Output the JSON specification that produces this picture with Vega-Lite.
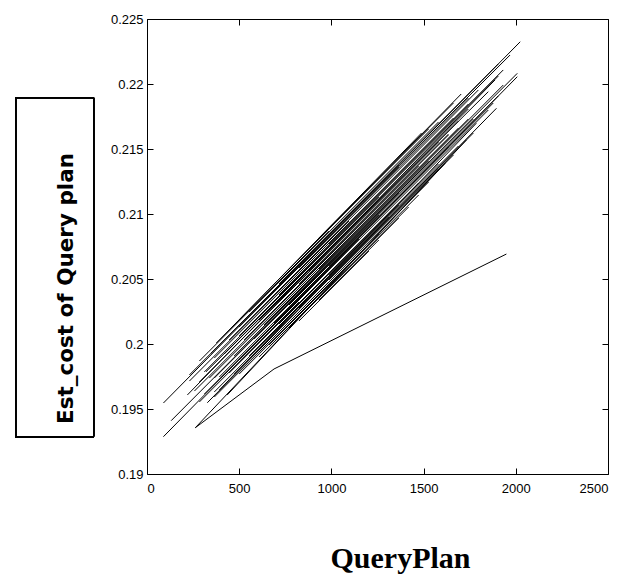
{
  "$schema": "https://vega.github.io/schema/vega-lite/v6.json",
  "width": 461,
  "height": 455,
  "autosize": {"type": "none"},
  "padding": {"left": 147, "top": 19, "right": 28, "bottom": 101},
  "background": "white",
  "config": {
    "view": {"stroke": "black", "strokeWidth": 1},
    "axis": {"labelFont": "Liberation Sans", "labelFontSize": 13, "labelColor": "black", "tickColor": "black", "tickWidth": 1, "grid": false, "domain": false}
  },
  "data": {"values": [
    {"s":"S1","o":0,"x":89,"y":0.19546},{"s":"S1","o":1,"x":2024,"y":0.22325},
    {"s":"S2","o":0,"x":131,"y":0.19410},{"s":"S2","o":1,"x":2008,"y":0.22082},
    {"s":"S3","o":0,"x":89,"y":0.19287},{"s":"S3","o":1,"x":2008,"y":0.22056},
    {"s":"S4","o":0,"x":219,"y":0.19608},{"s":"S4","o":1,"x":1887,"y":0.22031},
    {"s":"S5","o":0,"x":347,"y":0.19928},{"s":"S5","o":1,"x":1969,"y":0.22223},
    {"s":"S6","o":0,"x":376,"y":0.20008},{"s":"S6","o":1,"x":1704,"y":0.21923},
    {"s":"S7","o":0,"x":462,"y":0.20131},{"s":"S7","o":1,"x":1489,"y":0.21623},
    {"s":"S8","o":0,"x":320,"y":0.19787},{"s":"S8","o":1,"x":1851,"y":0.21941},
    {"s":"S9","o":0,"x":327,"y":0.19548},{"s":"S9","o":1,"x":1895,"y":0.21813},
    {"s":"S10","o":0,"x":392,"y":0.19646},{"s":"S10","o":1,"x":1786,"y":0.21698},
    {"s":"S11","o":0,"x":435,"y":0.19608},{"s":"S11","o":1,"x":1732,"y":0.21569},
    {"s":"S12","o":0,"x":262,"y":0.19356},{"s":"S12","o":1,"x":1617,"y":0.21390},
    {"s":"L","o":0,"x":262,"y":0.19356},{"s":"L","o":1,"x":689,"y":0.19808},{"s":"L","o":2,"x":1949,"y":0.20692},
    {"s":"F1","o":0,"x":446,"y":0.20031},{"s":"F1","o":1,"x":1797,"y":0.21954},
    {"s":"F2","o":0,"x":365,"y":0.19892},{"s":"F2","o":1,"x":1662,"y":0.21738},
    {"s":"F3","o":0,"x":500,"y":0.20062},{"s":"F3","o":1,"x":1905,"y":0.22061},
    {"s":"F4","o":0,"x":419,"y":0.19923},{"s":"F4","o":1,"x":1743,"y":0.21808},
    {"s":"F5","o":0,"x":284,"y":0.19708},{"s":"F5","o":1,"x":1581,"y":0.21554},
    {"s":"F6","o":0,"x":527,"y":0.20031},{"s":"F6","o":1,"x":1635,"y":0.21608},
    {"s":"F7","o":0,"x":338,"y":0.19738},{"s":"F7","o":1,"x":1689,"y":0.21661},
    {"s":"F8","o":0,"x":473,"y":0.19908},{"s":"F8","o":1,"x":1527,"y":0.21408},
    {"s":"F9","o":0,"x":581,"y":0.20038},{"s":"F9","o":1,"x":1770,"y":0.21731},
    {"s":"F10","o":0,"x":392,"y":0.19746},{"s":"F10","o":1,"x":1635,"y":0.21515},
    {"s":"F11","o":0,"x":500,"y":0.19877},{"s":"F11","o":1,"x":1851,"y":0.21800},
    {"s":"F12","o":0,"x":446,"y":0.19777},{"s":"F12","o":1,"x":1473,"y":0.21238},
    {"s":"F13","o":0,"x":554,"y":0.19908},{"s":"F13","o":1,"x":1689,"y":0.21523},
    {"s":"F14","o":0,"x":473,"y":0.19769},{"s":"F14","o":1,"x":1581,"y":0.21346},
    {"s":"F15","o":0,"x":608,"y":0.19938},{"s":"F15","o":1,"x":1527,"y":0.21246},
    {"s":"F16","o":0,"x":662,"y":0.19992},{"s":"F16","o":1,"x":1473,"y":0.21146},
    {"s":"F17","o":0,"x":770,"y":0.20123},{"s":"F17","o":1,"x":1365,"y":0.20969},
    {"s":"F18","o":0,"x":554,"y":0.20246},{"s":"F18","o":1,"x":1581,"y":0.21708},
    {"s":"F19","o":0,"x":716,"y":0.20500},{"s":"F19","o":1,"x":1527,"y":0.21654},
    {"s":"F20","o":0,"x":716,"y":0.20377},{"s":"F20","o":1,"x":1932,"y":0.22108},
    {"s":"F21","o":0,"x":635,"y":0.20146},{"s":"F21","o":1,"x":1932,"y":0.21992},
    {"s":"F22","o":0,"x":689,"y":0.20162},{"s":"F22","o":1,"x":1878,"y":0.21854},
    {"s":"F23","o":0,"x":824,"y":0.20585},{"s":"F23","o":1,"x":1743,"y":0.21892},
    {"s":"F24","o":0,"x":824,"y":0.20462},{"s":"F24","o":1,"x":1635,"y":0.21615},
    {"s":"F25","o":0,"x":824,"y":0.20277},{"s":"F25","o":1,"x":1770,"y":0.21623},
    {"s":"F26","o":0,"x":932,"y":0.20338},{"s":"F26","o":1,"x":1257,"y":0.20800},
    {"s":"F27","o":0,"x":284,"y":0.19554},{"s":"F27","o":1,"x":824,"y":0.20323},
    {"s":"F28","o":0,"x":365,"y":0.19592},{"s":"F28","o":1,"x":986,"y":0.20477},
    {"s":"F29","o":0,"x":230,"y":0.19762},{"s":"F29","o":1,"x":1365,"y":0.21377},
    {"s":"F30","o":0,"x":608,"y":0.20185},{"s":"F30","o":1,"x":1149,"y":0.20954},
    {"s":"F31","o":0,"x":770,"y":0.20300},{"s":"F31","o":1,"x":1257,"y":0.20992},
    {"s":"F32","o":0,"x":986,"y":0.20531},{"s":"F32","o":1,"x":1365,"y":0.21069},
    {"s":"G1","o":0,"x":932,"y":0.20815},{"s":"G1","o":1,"x":1662,"y":0.21854},
    {"s":"G2","o":0,"x":284,"y":0.19869},{"s":"G2","o":1,"x":986,"y":0.20869},
    {"s":"G3","o":0,"x":716,"y":0.20462},{"s":"G3","o":1,"x":1905,"y":0.22154},
    {"s":"G4","o":0,"x":500,"y":0.20131},{"s":"G4","o":1,"x":1365,"y":0.21361},
    {"s":"G5","o":0,"x":230,"y":0.19715},{"s":"G5","o":1,"x":1095,"y":0.20946},
    {"s":"G6","o":0,"x":986,"y":0.20769},{"s":"G6","o":1,"x":1743,"y":0.21846},
    {"s":"G7","o":0,"x":311,"y":0.19785},{"s":"G7","o":1,"x":1257,"y":0.21131},
    {"s":"G8","o":0,"x":878,"y":0.20562},{"s":"G8","o":1,"x":1689,"y":0.21715},
    {"s":"G9","o":0,"x":257,"y":0.19638},{"s":"G9","o":1,"x":1473,"y":0.21369},
    {"s":"G10","o":0,"x":932,"y":0.20577},{"s":"G10","o":1,"x":1743,"y":0.21731},
    {"s":"G11","o":0,"x":365,"y":0.19738},{"s":"G11","o":1,"x":1365,"y":0.21162},
    {"s":"G12","o":0,"x":986,"y":0.20600},{"s":"G12","o":1,"x":1905,"y":0.21908},
    {"s":"G13","o":0,"x":311,"y":0.19615},{"s":"G13","o":1,"x":1149,"y":0.20808},
    {"s":"G14","o":0,"x":716,"y":0.20154},{"s":"G14","o":1,"x":1581,"y":0.21385},
    {"s":"G15","o":0,"x":365,"y":0.19631},{"s":"G15","o":1,"x":1311,"y":0.20977},
    {"s":"G16","o":0,"x":986,"y":0.20492},{"s":"G16","o":1,"x":1662,"y":0.21454},
    {"s":"G17","o":0,"x":500,"y":0.19769},{"s":"G17","o":1,"x":1257,"y":0.20846},
    {"s":"G18","o":0,"x":608,"y":0.19900},{"s":"G18","o":1,"x":1419,"y":0.21054},
    {"s":"G19","o":0,"x":824,"y":0.20177},{"s":"G19","o":1,"x":1203,"y":0.20715}
  ]},
  "resolve": {"axis": {"x": "independent", "y": "independent"}},
  "layer": [
    {
      "mark": {"type": "line", "color": "black", "strokeWidth": 1},
      "encoding": {
        "x": {"field": "x", "type": "quantitative",
              "scale": {"domain": [0, 2500], "nice": false, "zero": false},
              "axis": {"values": [0, 500, 1000, 1500, 2000, 2500], "format": "d", "tickSize": -6, "labelPadding": 14,
                       "title": "QueryPlan", "titleFont": "Liberation Serif", "titleFontSize": 30, "titleFontWeight": "bold", "titleColor": "black",
                       "titleX": 253, "titleY": 93, "titleAlign": "center", "titleBaseline": "alphabetic"}},
        "y": {"field": "y", "type": "quantitative",
              "scale": {"domain": [0.19, 0.225], "nice": false, "zero": false},
              "axis": {"values": [0.19, 0.195, 0.2, 0.205, 0.21, 0.215, 0.22, 0.225], "format": "~g", "tickSize": -6, "labelPadding": 10,
                       "title": "Est_cost of Query plan", "titleFont": "DejaVu Sans", "titleFontSize": 21.5, "titleFontWeight": "bold", "titleColor": "black",
                       "titleAngle": 270, "titleX": -75, "titleY": 269, "titleAlign": "center", "titleBaseline": "alphabetic"}},
        "detail": {"field": "s", "type": "nominal"},
        "order": {"field": "o", "type": "quantitative"}
      }
    },
    {
      "mark": {"type": "point", "opacity": 0},
      "encoding": {
        "x": {"field": "x", "type": "quantitative",
              "axis": {"orient": "top", "values": [0, 500, 1000, 1500, 2000, 2500], "labels": false, "tickSize": -6, "title": null}},
        "y": {"field": "y", "type": "quantitative",
              "axis": {"orient": "right", "values": [0.19, 0.195, 0.2, 0.205, 0.21, 0.215, 0.22, 0.225], "labels": false, "tickSize": -6, "title": null}}
      }
    },
    {
      "mark": {"type": "rect", "filled": false, "stroke": "black", "strokeWidth": 1},
      "encoding": {
        "x": {"datum": -713, "type": "quantitative", "axis": null},
        "x2": {"datum": -290},
        "y": {"datum": 0.21896, "type": "quantitative", "axis": null},
        "y2": {"datum": 0.19288}
      }
    }
  ]
}
